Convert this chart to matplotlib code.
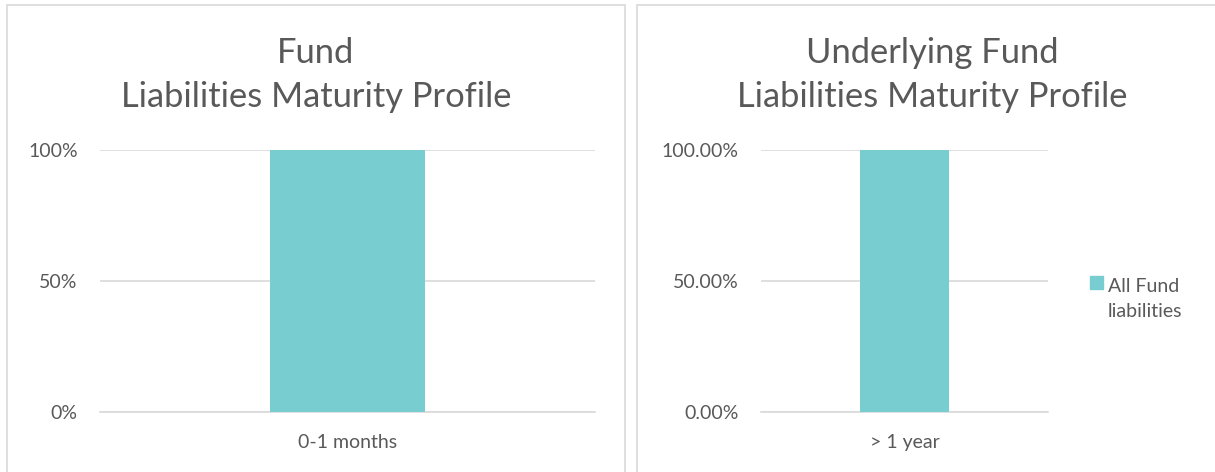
import matplotlib.pyplot as plt
from matplotlib.patches import Rectangle
from matplotlib.ticker import FuncFormatter

# ============ DATA ============
fund_cats = ['0-1 months']
fund_vals = [1.0]
fund_ticks = [0, 0.5, 1.0]

under_cats = ['> 1 year']
under_vals = [1.0]
under_ticks = [0, 0.5, 1.0]

series_name = 'All Fund\nliabilities'

# ============ STYLE ============
BAR = '#78CDD0'
TXT = '#595959'
GRID = '#D9D9D9'
plt.rcParams['font.family'] = ['Lato', 'DejaVu Sans']
FS = 14

W, H = 1215, 472
fig = plt.figure(figsize=(W / 100, H / 100), dpi=100)


def px_rect(x0, y0, x1, y1):
    # pixel box (top-left origin) -> figure fraction
    return [x0 / W, 1 - y1 / H, (x1 - x0) / W, (y1 - y0) / H]


# panel borders
for (x0, x1) in [(7, 625), (637, 1227)]:
    fig.patches.append(Rectangle((x0 / W, -0.05), (x1 - x0) / W, 1 - 5 / H + 0.05,
                                 transform=fig.transFigure, fill=False,
                                 edgecolor=GRID, linewidth=1.2))


def draw(ax, cats, vals, ticks, fmt):
    ax.bar(range(len(cats)), vals, width=0.313, color=BAR, zorder=3,
           label=series_name)
    ax.set_xlim(-0.5, len(cats) - 0.5)
    ax.set_ylim(0, 1.0)
    ax.set_yticks(ticks)
    ax.yaxis.set_major_formatter(FuncFormatter(fmt))
    ax.set_xticks(range(len(cats)))
    ax.set_xticklabels(cats)
    ax.grid(axis='y', color=GRID, linewidth=1.2, zorder=0)
    for s in ax.spines.values():
        s.set_visible(False)
    ax.spines['bottom'].set_visible(True)
    ax.spines['bottom'].set_color(GRID)
    ax.spines['bottom'].set_linewidth(1.2)
    ax.tick_params(length=0, colors=TXT, labelsize=FS)
    ax.tick_params(axis='y', pad=16)
    ax.tick_params(axis='x', pad=16)
    ax.set_facecolor('none')


ax1 = fig.add_axes(px_rect(100, 150, 595, 412))
draw(ax1, fund_cats, fund_vals, fund_ticks, lambda v, p: f'{v:.0%}')
fig.text(316 / W, 1 - 75 / H, 'Fund\nLiabilities Maturity Profile', ha='center',
         va='center', color=TXT, fontsize=24.8, linespacing=1.45)

ax2 = fig.add_axes(px_rect(761, 150, 1048, 412))
draw(ax2, under_cats, under_vals, under_ticks, lambda v, p: f'{v:.2%}')
fig.text(932 / W, 1 - 75 / H, 'Underlying Fund\nLiabilities Maturity Profile',
         ha='center', va='center', color=TXT, fontsize=24.8, linespacing=1.45)

# legend: swatch next to first line of the wrapped series name
fig.patches.append(Rectangle((1090 / W, 1 - 289 / H), 13 / W, 13 / H,
                             transform=fig.transFigure, color=BAR))
fig.text(1108 / W, 1 - 299 / H, series_name, ha='left', va='center',
         color=TXT, fontsize=FS, linespacing=1.55)

fig.savefig('out.png', dpi=100)
